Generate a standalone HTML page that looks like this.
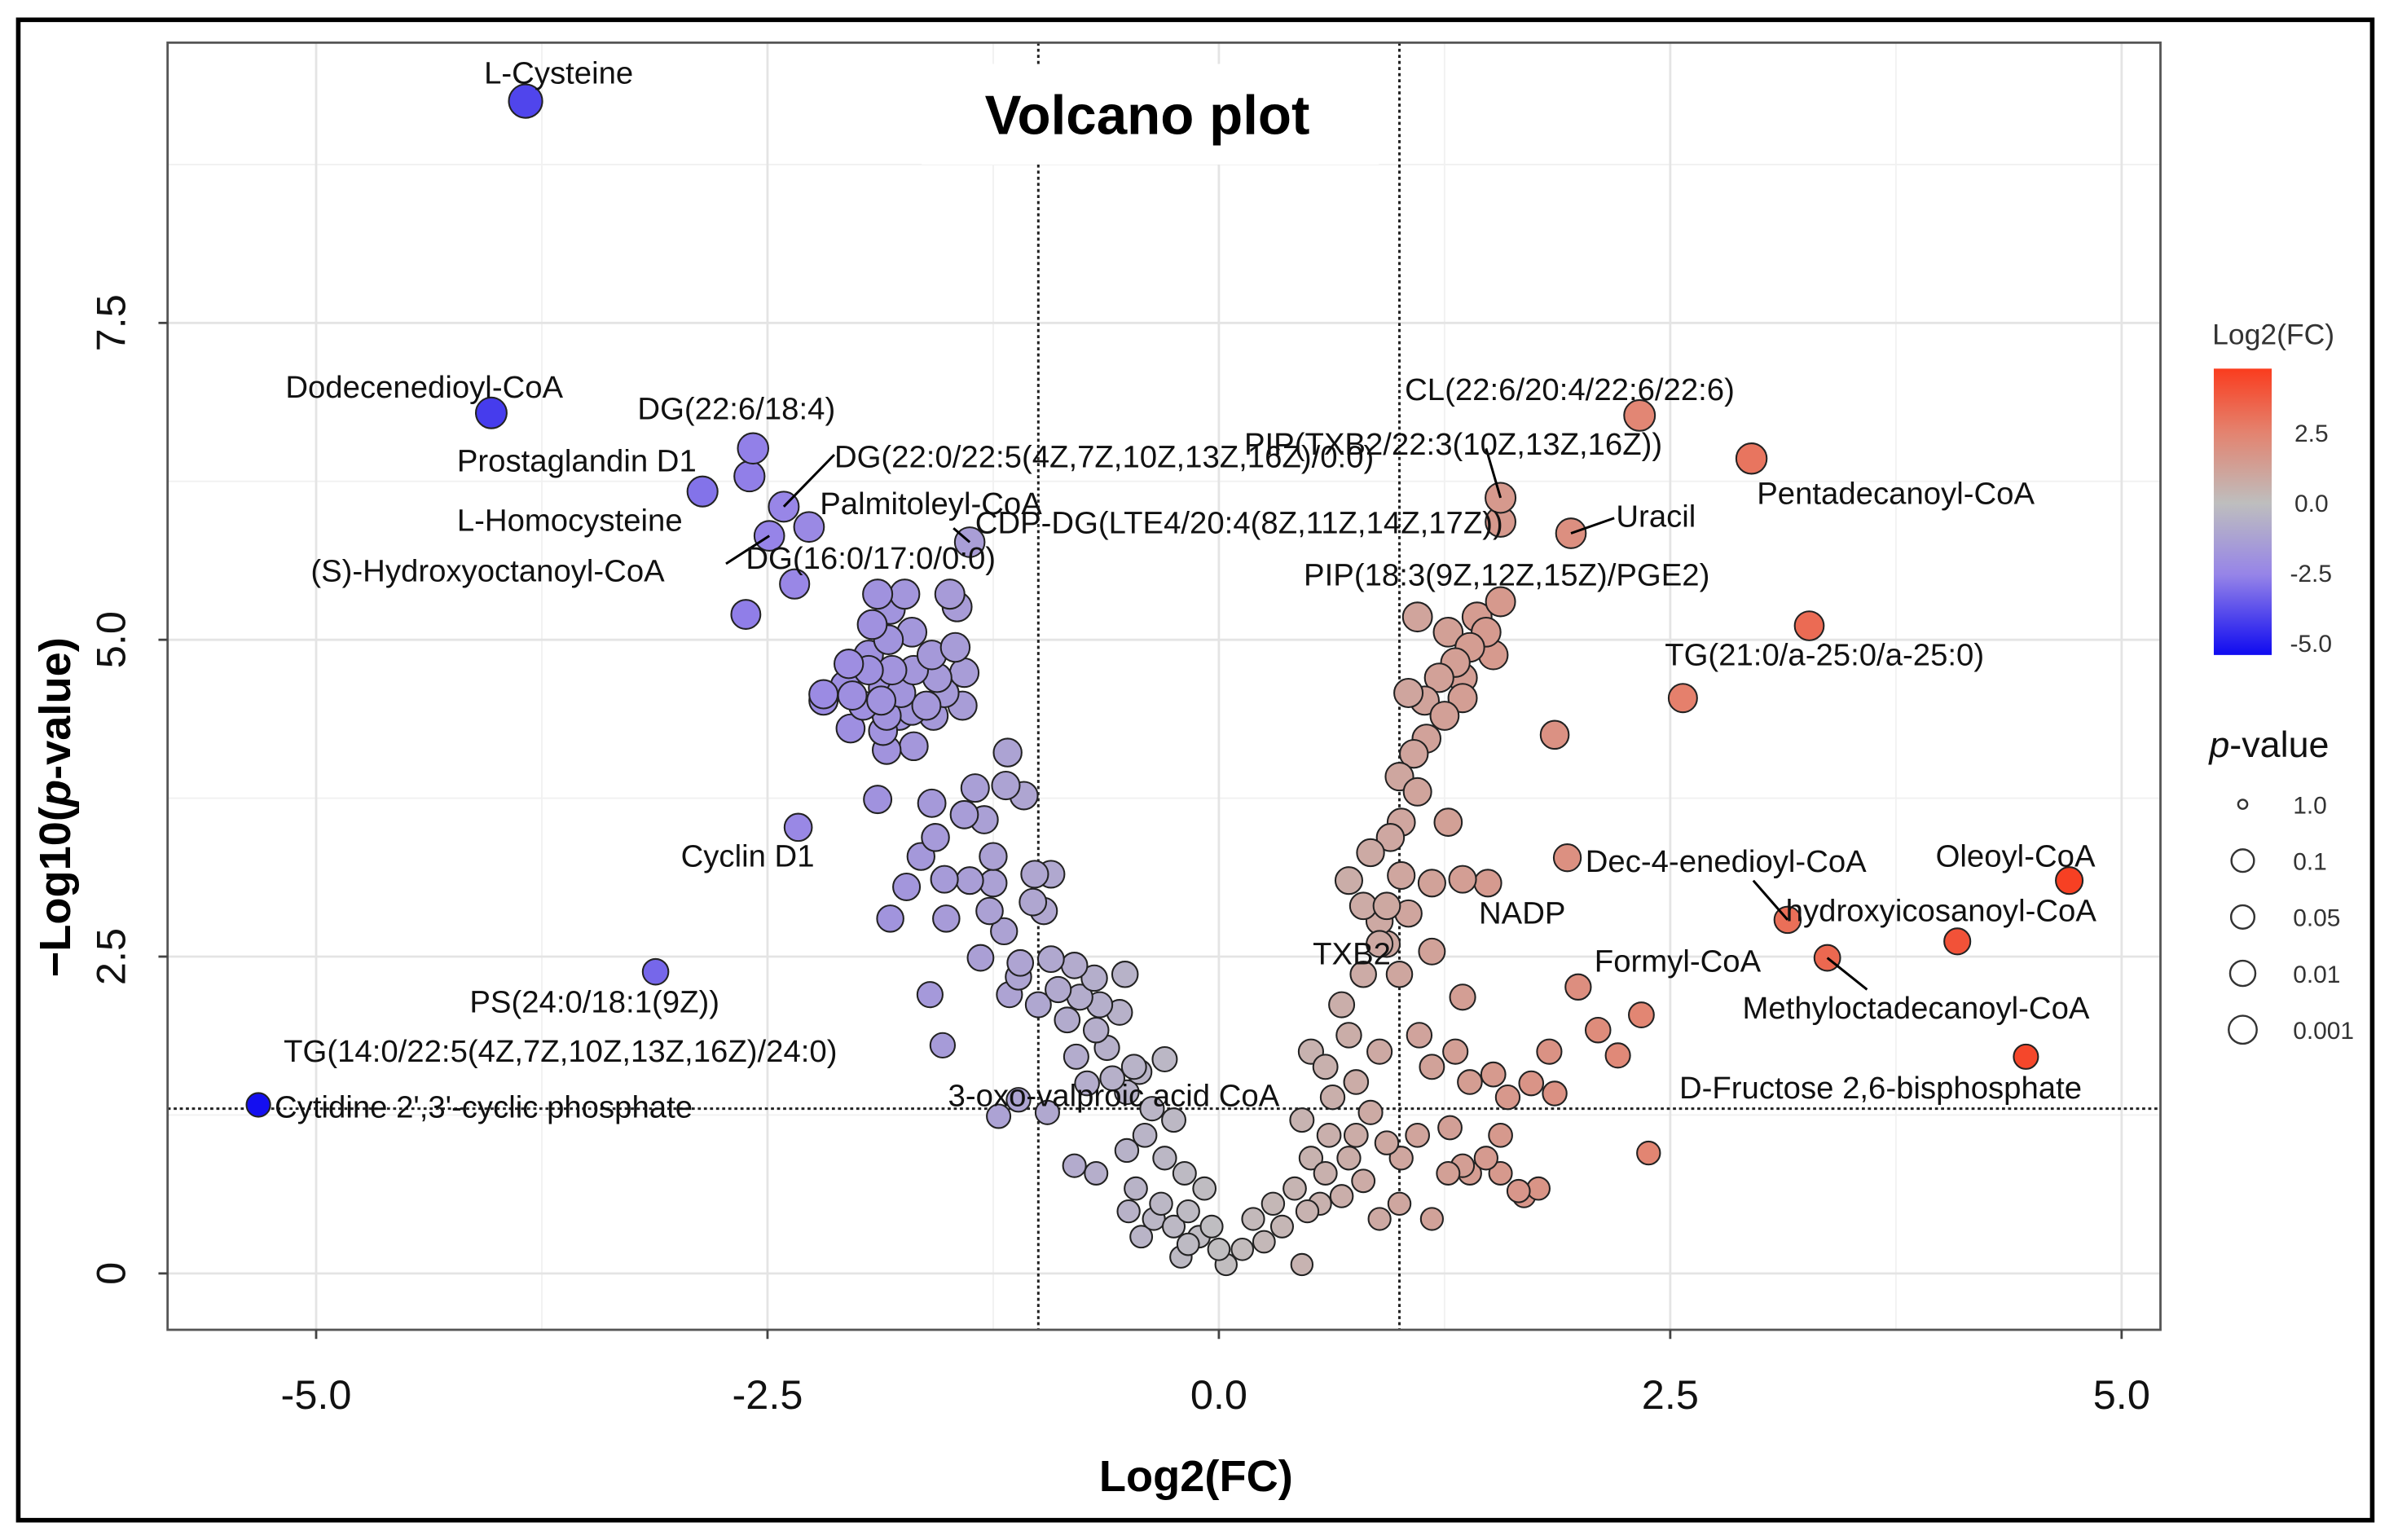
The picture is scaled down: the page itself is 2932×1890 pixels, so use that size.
<!DOCTYPE html>
<html><head><meta charset="utf-8"><style>
html,body{margin:0;padding:0;background:#fff;}
svg{display:block;font-family:"Liberation Sans",sans-serif;}
</style></head><body>
<svg id="chart" width="2932" height="1890" viewBox="0 0 1568 1011" preserveAspectRatio="none" xmlns="http://www.w3.org/2000/svg">
<rect x="0" y="0" width="1568" height="1011" fill="#fff"/>
<rect x="12" y="13" width="1545" height="985" fill="none" stroke="#000" stroke-width="3"/>
<g id="grid"></g>
<g id="guides"></g>
<g id="points"></g>
<g id="leaders" stroke="#000" stroke-width="1.6"></g>
<g id="labels" font-size="20.5" fill="#111"></g>
<rect x="110" y="28" width="1308" height="845" fill="none" stroke="#555" stroke-width="1.5"/>
<g id="axes"></g>
<rect x="605" y="42" width="300" height="66" fill="#fff"/>
<text x="753" y="88" text-anchor="middle" font-size="36" font-weight="bold">Volcano plot</text>
<text x="785" y="979" text-anchor="middle" font-size="29" font-weight="bold">Log2(FC)</text>
<text transform="translate(46,530) rotate(-90)" text-anchor="middle" font-size="29" font-weight="bold">−Log10(<tspan font-style="italic">p</tspan>-value)</text>
<g id="legend">
<defs><linearGradient id="cbar" x1="0" y1="0" x2="0" y2="1">
<stop offset="0" stop-color="rgb(250,60,30)"/><stop offset="0.22" stop-color="rgb(228,130,110)"/><stop offset="0.47" stop-color="rgb(190,190,190)"/><stop offset="0.72" stop-color="rgb(150,132,232)"/><stop offset="1" stop-color="rgb(15,10,240)"/></linearGradient></defs>
<text x="1452" y="226" font-size="19" fill="#333">Log2(FC)</text>
<rect x="1453" y="242" width="38" height="188" fill="url(#cbar)"/>
<text x="1506" y="290" font-size="16" fill="#333">2.5</text>
<text x="1506" y="336" font-size="16" fill="#333">0.0</text>
<text x="1503" y="382" font-size="16" fill="#333">-2.5</text>
<text x="1503" y="428" font-size="16" fill="#333">-5.0</text>
<text x="1450" y="497" font-size="24" fill="#111"><tspan font-style="italic">p</tspan>-value</text>
<g id="sizeLegend"></g>
</g>
</svg>
<script>
const xTicks=[-5,-2.5,0,2.5,5];
const xTickLabels=["-5.0","-2.5","0.0","2.5","5.0"];
const yTicks=[0,2.5,5,7.5];
const yTickLabels=["0","2.5","5.0","7.5"];
const log2fc=[-3.84,-4.03,-2.58,-2.60,-2.86,-2.41,-2.27,-2.49,-2.35,-2.62,-1.38,-2.33,-3.12,-5.32,-1.22,
2.33,2.95,1.56,1.95,1.56,3.27,2.57,1.86,1.93,4.71,3.15,4.09,3.37,4.47,1.35,1.49,2.38,1.99,2.34,2.10,2.21,1.83,1.73,1.86,1.66,
-1.89,-1.74,-1.49,-1.92,-1.83,-1.70,-1.46,-1.59,-2.05,-1.94,-1.81,-1.69,-1.56,-1.41,-2.19,-2.03,-1.87,-1.76,-1.62,-1.52,-2.19,-1.97,-1.84,-1.70,-1.58,-2.04,-1.86,-1.77,-1.42,-1.84,-1.69,-2.07,-1.94,-1.82,-1.45,-1.86,
-1.17,-1.35,-1.18,-1.59,-1.89,-1.41,-1.30,-1.08,-1.57,-1.25,-1.65,-1.73,-1.52,-1.38,-1.25,-1.02,-0.93,-1.82,-1.51,-1.27,-1.03,-0.97,-1.19,-1.32,-1.10,-0.93,-1.11,-0.80,-0.69,-0.89,-0.77,-0.66,-0.52,-1.60,-1.53,-1.16,-1.00,-0.84,-0.68,-0.55,-0.79,-0.62,-0.47,-1.11,-0.95,-0.73,-0.59,-0.44,-0.30,-0.51,-0.37,-0.25,-0.80,-0.68,-0.51,-0.41,-0.30,-0.19,-0.46,-0.32,-0.08,-0.17,-0.25,-0.04,0.00,0.04,0.13,-0.17,-0.36,-0.50,-0.43,-0.21,-0.11,
0.19,0.25,0.30,0.35,0.42,0.49,0.46,0.56,0.59,0.68,0.72,0.80,0.51,0.61,0.76,0.84,0.93,1.01,1.10,0.89,1.00,1.18,1.27,1.35,1.48,1.56,1.39,1.52,1.60,1.28,1.18,1.11,1.31,1.35,1.18,1.00,0.89,0.93,0.72,0.80,0.89,1.05,0.84,0.95,1.01,1.10,1.00,1.08,1.15,1.25,1.35,1.05,1.14,1.22,1.31,1.39,1.48,1.56,1.10,1.27,1.43,1.52,1.35,1.27,1.18,0.68,0.72,0.89,0.76,0.59,0.46,0.63,0.51,1.01,0.80,1.77,1.39,1.56,1.69,0.93];
const negLog10p=[9.25,6.79,6.51,6.29,6.17,6.05,5.89,5.82,5.44,5.20,5.77,3.52,2.38,1.33,1.24,
6.77,6.43,6.12,5.84,5.93,5.11,4.54,4.25,3.28,3.10,2.79,2.62,2.49,1.71,3.11,3.08,0.95,2.26,2.04,1.92,1.72,1.75,1.50,1.42,0.65,
5.36,5.36,5.36,5.12,5.00,5.06,4.94,4.88,4.81,4.76,4.76,4.76,4.70,4.74,4.57,4.56,4.52,4.58,4.48,4.58,4.52,4.48,4.40,4.44,4.40,4.30,4.28,4.40,4.48,4.13,4.16,4.64,4.88,5.24,5.26,4.62,
4.11,3.83,3.85,3.71,3.74,3.62,3.58,3.77,3.44,3.29,3.29,3.05,3.11,3.10,3.08,3.15,3.15,2.80,2.80,2.86,2.93,2.86,2.70,2.49,2.45,2.48,2.34,2.43,2.33,2.24,2.18,2.12,2.36,2.20,1.80,2.20,2.12,2.00,1.92,2.06,1.71,1.78,1.63,1.37,1.27,1.50,1.54,1.59,1.69,1.43,1.30,1.21,0.85,0.79,0.97,1.09,0.91,0.79,0.67,0.55,0.67,0.49,0.37,0.37,0.19,0.07,0.19,0.23,0.43,0.49,0.29,0.13,0.29,
0.43,0.25,0.55,0.37,0.67,0.49,0.07,0.55,0.79,0.61,0.91,0.73,0.91,1.09,1.09,1.27,1.03,0.91,1.09,0.43,0.55,0.43,0.79,0.85,0.91,1.09,1.51,1.57,1.39,1.15,1.63,1.88,1.75,2.18,2.54,2.36,2.60,2.90,3.10,2.90,2.78,2.84,3.32,3.44,3.56,3.80,3.92,4.10,4.22,4.40,4.54,4.58,4.52,4.70,4.82,4.94,5.06,5.30,5.18,5.06,5.18,4.88,4.70,3.56,3.08,2.12,1.88,1.75,1.51,1.63,1.21,1.39,1.75,3.14,2.36,0.67,0.79,0.79,0.61,2.60];
const pLegendValues=["1.0","0.1","0.05","0.01","0.001"];
const pLegendNegLog=[0,1,1.3,2,3];
const pointLabels=["L-Cysteine","Dodecenedioyl-CoA","DG(22:6/18:4)","Prostaglandin D1","DG(22:0/22:5(4Z,7Z,10Z,13Z,16Z)/0:0)","PIP(TXB2/22:3(10Z,13Z,16Z))","CL(22:6/20:4/22:6/22:6)","Pentadecanoyl-CoA","Palmitoleyl-CoA","L-Homocysteine","CDP-DG(LTE4/20:4(8Z,11Z,14Z,17Z))","Uracil","(S)-Hydroxyoctanoyl-CoA","DG(16:0/17:0/0:0)","PIP(18:3(9Z,12Z,15Z)/PGE2)","TG(21:0/a-25:0/a-25:0)","Cyclin D1","Dec-4-enedioyl-CoA","Oleoyl-CoA","NADP","hydroxyicosanoyl-CoA","TXB2","Formyl-CoA","PS(24:0/18:1(9Z))","Methyloctadecanoyl-CoA","TG(14:0/22:5(4Z,7Z,10Z,13Z,16Z)/24:0)","3-oxo-valproic acid CoA","Cytidine 2',3'-cyclic phosphate","D-Fructose 2,6-bisphosphate"];
const labelX=[-4.07,-5.17,-3.22,-4.22,-2.13,0.14,1.03,2.98,-2.21,-4.22,-1.35,2.20,-5.03,-2.62,0.47,2.47,-2.98,2.03,3.97,1.44,3.14,0.52,2.08,-4.15,2.90,-5.18,-1.50,-5.23,2.55];
const labelY=[9.39,6.91,6.74,6.33,6.36,6.46,6.89,6.07,5.99,5.86,5.84,5.89,5.46,5.56,5.43,4.80,3.21,3.17,3.21,2.76,2.78,2.44,2.38,2.06,2.01,1.67,1.32,1.23,1.38];
const NS="http://www.w3.org/2000/svg";
const L=110,R=1418,T=28,B=873;
function xs(v){return 800+118.5*v;}
function ys(v){return 836-83.2*v;}
function mk(tag,attrs,parent){const e=document.createElementNS(NS,tag);for(const k in attrs)e.setAttribute(k,attrs[k]);parent.appendChild(e);return e;}
function color(v){const st=[[-5,[20,15,240]],[-2.5,[150,132,232]],[0,[192,190,192]],[2.5,[228,130,110]],[5,[250,55,25]]];
 v=Math.max(-5,Math.min(5,v));for(let i=0;i<4;i++){const a=st[i],b=st[i+1];if(v<=b[0]){const t=(v-a[0])/(b[0]-a[0]);const c=a[1].map((x,j)=>Math.round(x+(b[1][j]-x)*t));return `rgb(${c})`;}}return "rgb(250,55,25)";}
function rad(y){return 7+0.6*Math.min(y,3)+0.35*Math.max(0,y-3);}
const grid=document.getElementById('grid');
const minorX=[-3.75,-1.25,1.25,3.75],minorY=[1.25,3.75,6.25,8.75];
minorX.forEach(v=>{const l=mk('line',{x1:xs(v),x2:xs(v),y1:T,y2:B,stroke:'#f1f1f1','stroke-width':1},grid);});
minorY.forEach(v=>{const l=mk('line',{x1:L,x2:R,y1:ys(v),y2:ys(v),stroke:'#f1f1f1','stroke-width':1},grid);});
xTicks.forEach(v=>{const l=mk('line',{x1:xs(v),x2:xs(v),y1:T,y2:B,stroke:'#e4e4e4','stroke-width':1.5},grid);});
yTicks.forEach(v=>{const l=mk('line',{x1:L,x2:R,y1:ys(v),y2:ys(v),stroke:'#e4e4e4','stroke-width':1.5},grid);});
const gd=document.getElementById('guides');
[-1,1].forEach(v=>{const l=mk('line',{x1:xs(v),x2:xs(v),y1:T,y2:B,stroke:'#222','stroke-width':1.6,'stroke-dasharray':'2 2'},gd);});
const hl=mk('line',{x1:L,x2:R,y1:ys(1.3),y2:ys(1.3),stroke:'#222','stroke-width':1.6,'stroke-dasharray':'2 2'},gd);


const pts=document.getElementById('points');
const order=log2fc.map((v,i)=>i).reverse();
order.forEach(i=>{const c=mk('circle',{cx:xs(log2fc[i]),cy:ys(negLog10p[i]),r:rad(negLog10p[i]),fill:color(log2fc[i]),stroke:'#222','stroke-width':1.1},pts);

});
const lb=document.getElementById('labels');
pointLabels.forEach((t,i)=>{const e=mk('text',{x:xs(labelX[i]),y:ys(labelY[i])},lb);e.textContent=t;

});
const ld=document.getElementById('leaders');
const leaderFrom=[[-2.13,6.46],[-2.73,5.60],[-1.47,5.88],[2.19,5.96],[1.48,6.51],[2.96,3.10],[3.59,2.24]];
const leaderTo=[[-2.41,6.05],[-2.49,5.82],[-1.38,5.77],[1.95,5.84],[1.56,6.12],[3.15,2.79],[3.37,2.49]];
leaderFrom.forEach((f,i)=>{const l=mk('line',{x1:xs(f[0]),y1:ys(f[1]),x2:xs(leaderTo[i][0]),y2:ys(leaderTo[i][1])},ld);

});
const ax=document.getElementById('axes');
xTicks.forEach((v,i)=>{mk('line',{x1:xs(v),x2:xs(v),y1:B,y2:B+6,stroke:'#444','stroke-width':1.5},ax);
const t=mk('text',{x:xs(v),y:925,'text-anchor':'middle','font-size':27,fill:'#111'},ax);t.textContent=xTickLabels[i];

});
yTicks.forEach((v,i)=>{mk('line',{x1:L-6,x2:L,y1:ys(v),y2:ys(v),stroke:'#444','stroke-width':1.5},ax);
const t=mk('text',{transform:`translate(82,${ys(v)}) rotate(-90)`,'text-anchor':'middle','font-size':27,fill:'#111'},ax);t.textContent=yTickLabels[i];

});
const sl=document.getElementById('sizeLegend');
pLegendValues.forEach((v,i)=>{const y=528+i*37;const r=i===0?3:6.5+0.9*pLegendNegLog[i];
const c=mk('circle',{cx:1472,cy:y,r:r,fill:'none',stroke:'#333','stroke-width':1.3},sl);


const t=mk('text',{x:1505,y:y+6,'font-size':16,fill:'#333'},sl);t.textContent=v;

});
</script>
</body></html>
